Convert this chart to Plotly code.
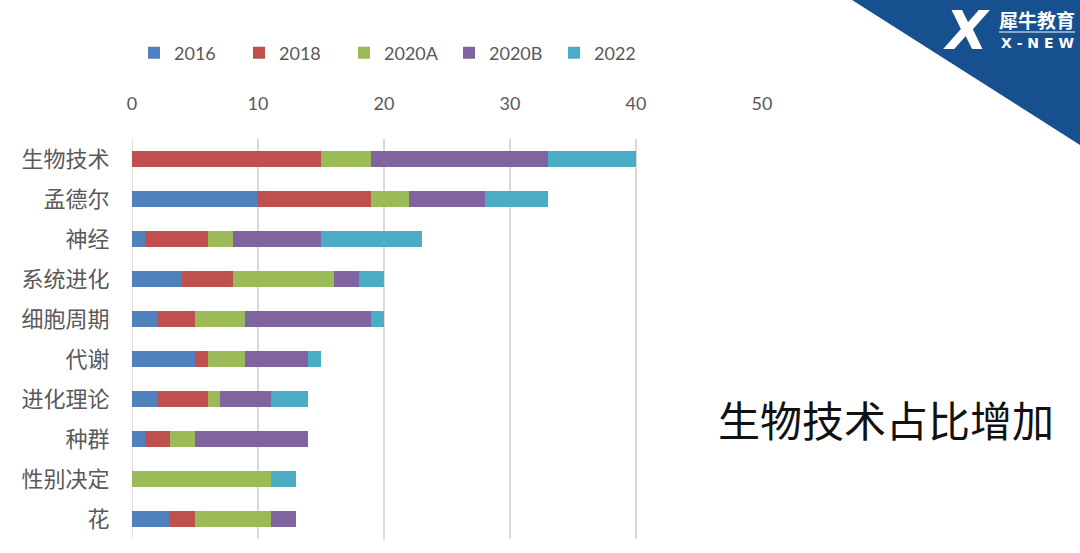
import plotly.graph_objects as go

categories = ["生物技术", "孟德尔", "神经", "系统进化", "细胞周期", "代谢", "进化理论", "种群", "性别决定", "花"]
series_names = ["2016", "2018", "2020A", "2020B", "2022"]
v2016 = [0, 10, 1, 4, 2, 5, 2, 1, 0, 3]
v2018 = [15, 9, 5, 4, 3, 1, 4, 2, 0, 2]
v2020A = [4, 3, 2, 8, 4, 3, 1, 2, 11, 6]
v2020B = [14, 6, 7, 2, 10, 5, 4, 9, 0, 2]
v2022 = [7, 5, 8, 2, 1, 1, 3, 0, 2, 0]
x_ticks = [0, 10, 20, 30, 40, 50]
colors = ["#4F81BD", "#C0504D", "#9BBB59", "#8064A2", "#4BACC6"]

W, H = 1080, 553
L, R, T, B = 132, 762, 139, 539

def px(x):
    return (x - L) / (R - L)

def py(y):
    return (B - y) / (B - T)

fig = go.Figure()
for name, vals, c in zip(series_names, [v2016, v2018, v2020A, v2020B, v2022], colors):
    fig.add_trace(go.Bar(y=categories, x=vals, name=name, orientation="h",
                         marker=dict(color=c, line=dict(width=0))))

fig.update_layout(
    width=W, height=H,
    barmode="stack", bargap=0.58,
    paper_bgcolor="white", plot_bgcolor="white",
    margin=dict(l=L, r=W - R, t=T, b=H - B, autoexpand=False),
    font=dict(family="Lato, Noto Sans CJK SC", color="#595959"),
    legend=dict(orientation="h", x=px(134), y=py(53), xanchor="left", yanchor="middle",
                font=dict(size=18, color="#595959"), entrywidth=60, entrywidthmode="pixels",
                traceorder="normal", itemwidth=30),
    xaxis=dict(side="top", range=[0, 50], tickvals=x_ticks, showgrid=True,
               gridcolor="#D9D9D9", gridwidth=1.5, zeroline=False, showline=False,
               ticks="outside", ticklen=21, tickcolor="rgba(0,0,0,0)",
               tickfont=dict(size=18, color="#595959")),
    yaxis=dict(autorange="reversed", showgrid=False, zeroline=False, showline=False,
               ticks="outside", ticklen=17, tickcolor="rgba(0,0,0,0)",
               tickfont=dict(size=22, color="#595959", family="Noto Sans CJK SC")),
)

# zero line drawn as gridline-like vertical line
fig.add_shape(type="line", xref="x", yref="paper", x0=0, x1=0, y0=0, y1=1,
              line=dict(color="#D9D9D9", width=1.5), layer="below")

# logo triangle
fig.add_shape(type="path", xref="paper", yref="paper",
              path=f"M {px(852)} {py(0)} L {px(1080)} {py(0)} L {px(1080)} {py(145)} Z",
              fillcolor="#17508F", line=dict(width=0))
fig.add_annotation(xref="paper", yref="paper", x=px(966), y=py(30), text="<b><i>X</i></b>",
                   showarrow=False, font=dict(size=54, color="white", family="DejaVu Sans"),
                   xanchor="center", yanchor="middle")
fig.add_annotation(xref="paper", yref="paper", x=px(1037), y=py(20), text="<b>犀牛教育</b>",
                   showarrow=False, font=dict(size=19, color="white", family="Noto Sans CJK SC"),
                   xanchor="center", yanchor="middle")
fig.add_shape(type="line", xref="paper", yref="paper", x0=px(999), x1=px(1075), y0=py(32), y1=py(32),
              line=dict(color="white", width=1))
fig.add_annotation(xref="paper", yref="paper", x=px(1037), y=py(43), text="<b>X - N E W</b>",
                   showarrow=False, font=dict(size=14, color="white", family="DejaVu Sans"),
                   xanchor="center", yanchor="middle")

# big right-side text
fig.add_annotation(xref="paper", yref="paper", x=px(886), y=py(418), text="生物技术占比增加",
                   showarrow=False, font=dict(size=42, color="#111111", family="Noto Sans CJK SC"),
                   xanchor="center", yanchor="middle")

fig.write_html("out.html", config={"displayModeBar": False},
               post_script="document.body.style.margin='0';document.body.style.overflow='hidden';")
